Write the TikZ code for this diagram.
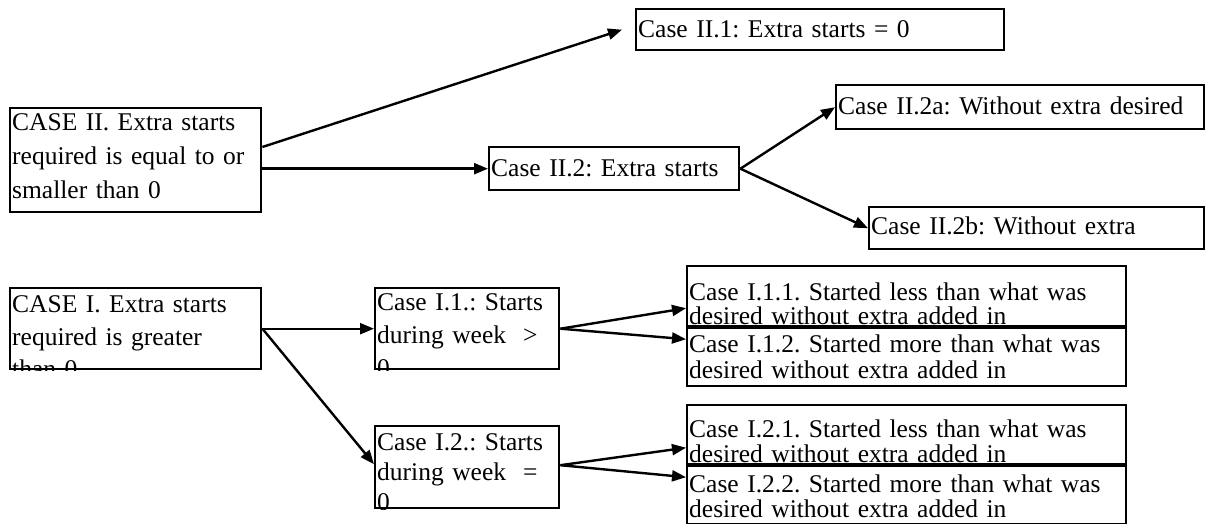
\documentclass[tikz,border=0pt]{standalone}
\usepackage{fontspec}
\setmainfont{Liberation Serif}
\usetikzlibrary{arrows.meta}
\frenchspacing
% #1 name, #2 x, #3 y (top left), #4 width, #5 height,
% #6 first baseline below the top edge, #7 line pitch, #8 text lines
% The text is clipped to its frame, so overlong lines are cut at the border.
\newcommand{\casebox}[8]{%
  \node[box, minimum width=#4pt, minimum height=#5pt] (#1) at (#2,#3) {};
  \begin{scope}
    \clip (#1.north west) rectangle (#1.south east);
    \node[boxtext, text width=#4pt, font=\fontsize{25.5}{#7}\selectfont]
      (#1-text) at ([xshift=3pt,yshift=-#6pt]#1.north west) {#8};
  \end{scope}
}
\begin{document}
\begin{tikzpicture}[x=1pt,y=-1pt,
  box/.style={draw, line width=2.4pt, inner sep=0pt, anchor=north west},
  boxtext/.style={anchor=base west, inner sep=0pt, align=left},
  conn/.style={line width=2.4pt, -{Triangle[length=14pt,width=11pt]}}]
\useasboundingbox (0,0) rectangle (1219,524);

% Case II branch
\casebox{c2}{9}{107}{251}{104}{24}{34}{CASE II. Extra starts\\required is equal to or\\smaller than 0}
\casebox{c21}{635}{8}{368}{41}{30}{30}{Case II.1: Extra starts = 0}
\casebox{c22}{488}{146}{250}{43}{31}{30}{Case II.2: Extra starts}
\casebox{c22a}{835}{84}{368}{44}{31}{30}{Case II.2a: Without extra desired}
\casebox{c22b}{868}{206}{335}{42}{28}{30}{Case II.2b: Without extra}

% Case I branch
\casebox{c1}{9}{287}{251}{81}{25}{33}{CASE I. Extra starts\\required is greater\\than 0}
\casebox{c11}{374}{287}{184}{81}{23}{33}{Case I.1.: Starts\\during week~ >\\0}
\casebox{c12}{374}{425}{184}{82}{25}{30}{Case I.2.: Starts\\during week~ =\\0}
\casebox{c111}{686}{265}{439}{60}{35}{24}{Case I.1.1. Started less than what was\\desired without extra added in}
\casebox{c112}{686}{327}{439}{58}{25}{26}{Case I.1.2. Started more than what was\\desired without extra added in}
\casebox{c121}{686}{404}{439}{59}{33}{25}{Case I.2.1. Started less than what was\\desired without extra added in}
\casebox{c122}{686}{465}{439}{58}{27}{25}{Case I.2.2. Started more than what was\\desired without extra added in}

% connectors
\draw[conn] ([yshift=-40pt]c2.north east) -- ([xshift=-13pt]c21.west);
\draw[conn] (c22.west -| c2.east) -- (c22.west);
\draw[conn] (c22.east) -- (c22a.west);
\draw[conn] (c22.east) -- (c22b.west);
\draw[conn] (c1.east) -- (c11.west);
\draw[conn] (c1.east) -- ([yshift=3pt]c12.west);
\draw[conn] (c11.east) -- ([yshift=-12pt]c111.west);
\draw[conn] (c11.east) -- ([yshift=18pt]c112.west);
\draw[conn] ([yshift=2pt]c12.east) -- ([yshift=-13pt]c121.west);
\draw[conn] ([yshift=2pt]c12.east) -- ([yshift=18pt]c122.west);
\end{tikzpicture}
\end{document}
